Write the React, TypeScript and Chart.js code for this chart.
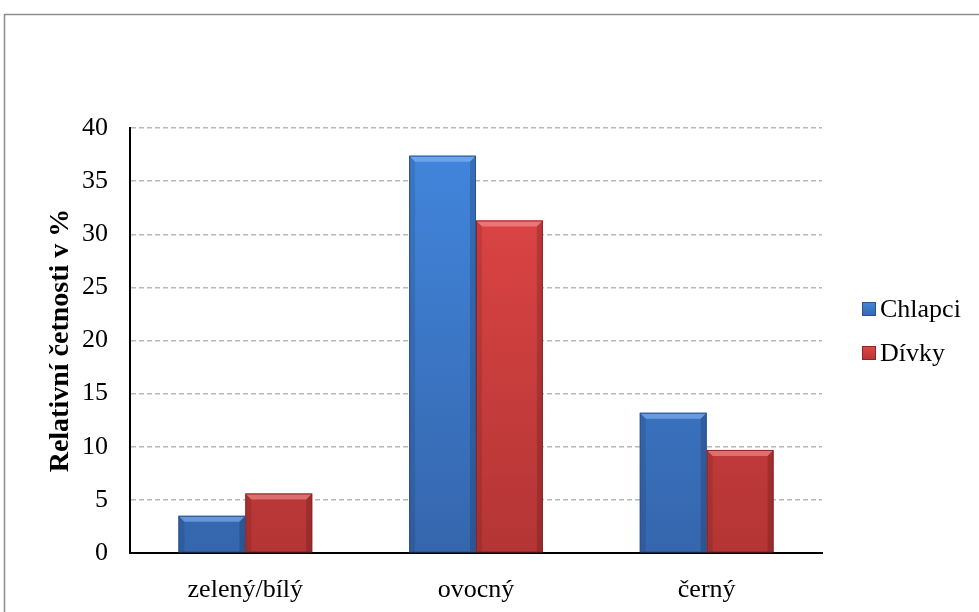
import React, { useEffect, useRef } from "react";
import { Chart, registerables } from "chart.js";

Chart.register(...registerables);

const categories = ["zelený/bílý", "ovocný", "černý"];
const chlapci = [3.5, 37.4, 13.2];
const divky = [5.6, 31.3, 9.7];
const seriesNames = ["Chlapci", "Dívky"];
const yTicks = [0, 5, 10, 15, 20, 25, 30, 35, 40];
const yTitle = "Relativní četnosti v %";

const FONT = '"Liberation Serif", "Times New Roman", serif';

const palettes = [
  { top: "#4287de", bottom: "#3566ad", edge: "#2a5290", light: "rgba(150,195,255,0.5)" },
  { top: "#e44747", bottom: "#b43535", edge: "#8e2626", light: "rgba(255,165,165,0.5)" },
];

function gradientFor(ctx: any, i: number) {
  const chart = ctx.chart;
  const area = chart.chartArea;
  if (!area) return palettes[i].top;
  const g = chart.ctx.createLinearGradient(0, area.top, 0, area.bottom);
  g.addColorStop(0, palettes[i].top);
  g.addColorStop(1, palettes[i].bottom);
  return g;
}

// frame around the chart, bevelled bars and a right-hand legend
const decorPlugin = {
  id: "decor",
  beforeDraw(chart: any) {
    const c = chart.ctx;
    c.save();
    c.fillStyle = "#ffffff";
    c.fillRect(0, 0, chart.width, chart.height);
    c.strokeStyle = "#8c8c8c";
    c.lineWidth = 1.5;
    c.strokeRect(4.5, 14.5, chart.width + 20, chart.height + 20);
    c.restore();
  },
  afterDatasetsDraw(chart: any) {
    const c = chart.ctx;
    c.save();
    chart.data.datasets.forEach((_: any, di: number) => {
      const meta = chart.getDatasetMeta(di);
      const p = palettes[di];
      meta.data.forEach((bar: any) => {
        const { x, y, width, base } = bar.getProps(["x", "y", "width", "base"], true);
        const l = x - width / 2;
        const r = x + width / 2;
        const h = base - y;
        const b = Math.min(6, h / 2);
        // top bevel
        c.fillStyle = p.light;
        c.beginPath();
        c.moveTo(l, y);
        c.lineTo(r, y);
        c.lineTo(r - b, y + b);
        c.lineTo(l + b, y + b);
        c.closePath();
        c.fill();
        // side bevels
        c.fillStyle = "rgba(0,0,0,0.1)";
        c.beginPath();
        c.moveTo(l, y);
        c.lineTo(l + b, y + b);
        c.lineTo(l + b, base);
        c.lineTo(l, base);
        c.closePath();
        c.fill();
        c.fillStyle = "rgba(0,0,0,0.16)";
        c.beginPath();
        c.moveTo(r, y);
        c.lineTo(r - b, y + b);
        c.lineTo(r - b, base);
        c.lineTo(r, base);
        c.closePath();
        c.fill();
        c.strokeStyle = p.edge;
        c.lineWidth = 1;
        c.strokeRect(l + 0.5, y + 0.5, width - 1, h - 1);
      });
    });
    // legend
    c.font = `26px ${FONT}`;
    c.textBaseline = "middle";
    c.textAlign = "left";
    const ys = [309, 353];
    seriesNames.forEach((name, i) => {
      const p = palettes[i];
      const g = c.createLinearGradient(0, ys[i] - 7, 0, ys[i] + 7);
      g.addColorStop(0, p.top);
      g.addColorStop(1, p.bottom);
      c.fillStyle = g;
      c.fillRect(862, ys[i] - 7, 14, 14);
      c.strokeStyle = p.edge;
      c.lineWidth = 1;
      c.strokeRect(862.5, ys[i] - 6.5, 13, 13);
      c.fillStyle = "#000";
      c.fillText(name, 880, ys[i] + 1);
    });
    c.restore();
  },
};

export default function App() {
  const ref = useRef<HTMLCanvasElement | null>(null);

  useEffect(() => {
    document.body.style.margin = "0";
    const canvas = ref.current;
    if (!canvas) return;
    const chart = new Chart(canvas, {
      type: "bar",
      data: {
        labels: categories,
        datasets: [
          {
            label: seriesNames[0],
            data: chlapci,
            backgroundColor: (ctx: any) => gradientFor(ctx, 0),
            categoryPercentage: 0.58,
            barPercentage: 1,
          },
          {
            label: seriesNames[1],
            data: divky,
            backgroundColor: (ctx: any) => gradientFor(ctx, 1),
            categoryPercentage: 0.58,
            barPercentage: 1,
          },
        ],
      },
      options: {
        animation: false,
        responsive: false,
        devicePixelRatio: 1,
        layout: { padding: { left: 42, right: 157, top: 128, bottom: 0 } },
        plugins: { legend: { display: false }, tooltip: { enabled: false } },
        scales: {
          x: {
            grid: { display: false, drawTicks: false },
            border: { display: true, color: "#000", width: 2 },
            ticks: { color: "#000", font: { family: FONT, size: 26 }, padding: 22 },
            afterFit: (scale: any) => {
              scale.height = 59;
            },
          },
          y: {
            min: 0,
            max: 40,
            afterBuildTicks: (scale: any) => {
              scale.ticks = yTicks.map((v) => ({ value: v }));
            },
            afterFit: (scale: any) => {
              scale.width = 88;
            },
            grid: {
              color: "#b8b8b8",
              lineWidth: 1.5,
              drawTicks: false,
            },
            border: { display: true, color: "#000", width: 2, dash: [5, 3] },
            ticks: { color: "#000", font: { family: FONT, size: 26 }, padding: 22 },
            title: {
              display: true,
              text: yTitle,
              color: "#000",
              font: { family: FONT, size: 28, weight: "bold" },
              padding: { top: 2, bottom: 0 },
            },
          },
        },
      },
      plugins: [decorPlugin],
    });
    return () => chart.destroy();
  }, []);

  return (
    <div style={{ width: 979, height: 612, position: "relative" }}>
      <canvas ref={ref} width={979} height={612} style={{ display: "block" }} />
    </div>
  );
}
